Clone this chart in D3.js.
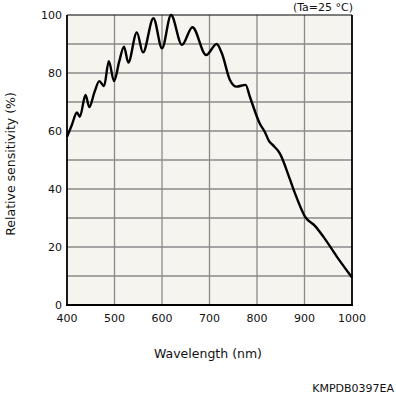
<!DOCTYPE html>
<html><head><meta charset="utf-8">
<script src="https://cdn.jsdelivr.net/npm/d3@7"></script>
<style>body{margin:0;background:#fff}svg{display:block}</style>
</head><body>
<script>
const wavelength = [400,410,421,427,439,447,458,468,478,488,499,510,520,529,547,560,582,600,619,642,664,693,715,726,743,757,776,785,806,817,825,833,848,869,880,901,922,940,968,1000];
const sensitivity = [58.0,62.0,66.4,64.9,72.4,68.2,73.5,77.2,75.5,84.1,77.2,84.0,89.1,83.6,94.0,87.1,98.9,88.5,100,89.7,95.8,86.2,90.0,86.8,77.6,75.3,75.9,71.8,62.5,59.5,56.6,55.2,52.3,43.5,38.5,30.5,27.3,23.5,16.7,9.5];
const xTicks = [400,500,600,700,800,900,1000];
const yTicks = [0,20,40,60,80,100];
const yGrid = [10,20,30,40,50,60,70,80,90];

const W=396,H=396;
const m={l:67,r:44,t:15,b:91};
const svg=d3.select("body").append("svg").attr("width",W).attr("height",H);
const x=d3.scaleLinear().domain([400,1000]).range([m.l,W-m.r]);
const y=d3.scaleLinear().domain([0,100]).range([H-m.b,m.t]);
const font="'DejaVu Sans', Verdana, sans-serif";

svg.append("rect").attr("x",x(400)).attr("y",y(100)).attr("width",x(1000)-x(400)).attr("height",y(0)-y(100)).attr("fill","#f5f4ee");

const g=svg.append("g");
g.selectAll(".vg").data(xTicks.slice(1,-1)).join("line")
 .attr("x1",d=>x(d)).attr("x2",d=>x(d)).attr("y1",y(0)).attr("y2",y(100))
 .attr("stroke","#8a8a8a").attr("stroke-width",1.3);
g.selectAll(".hg").data(yGrid).join("line")
 .attr("y1",d=>y(d)).attr("y2",d=>y(d)).attr("x1",x(400)).attr("x2",x(1000))
 .attr("stroke","#8a8a8a").attr("stroke-width",1.3);

// frame
svg.append("line").attr("x1",x(400)).attr("x2",x(1000)).attr("y1",y(100)).attr("y2",y(100)).attr("stroke","#000").attr("stroke-width",1.2);
svg.append("line").attr("x1",x(1000)).attr("x2",x(1000)).attr("y1",y(100)).attr("y2",y(0)).attr("stroke","#000").attr("stroke-width",1.8);
svg.append("line").attr("x1",x(400)).attr("x2",x(400)).attr("y1",y(100)).attr("y2",y(0)+1).attr("stroke","#000").attr("stroke-width",1.8);
svg.append("line").attr("x1",x(400)-1).attr("x2",x(1000)+1).attr("y1",y(0)).attr("y2",y(0)).attr("stroke","#000").attr("stroke-width",1.8);

const data=wavelength.map((w,i)=>[w,sensitivity[i]]);
const line=d3.line().x(d=>x(d[0])).y(d=>y(d[1])).curve(d3.curveMonotoneX);
svg.append("path").datum(data).attr("d",line).attr("fill","none").attr("stroke","#000").attr("stroke-width",2.4).attr("stroke-linejoin","round");

// tick labels
svg.selectAll(".xl").data(xTicks).join("text")
 .attr("x",d=>x(d)).attr("y",y(0)+17).attr("text-anchor","middle")
 .attr("font-family",font).attr("font-size",11).attr("fill","#111").text(d=>d);
svg.selectAll(".yl").data(yTicks).join("text")
 .attr("x",x(400)-5).attr("y",d=>y(d)+4).attr("text-anchor","end")
 .attr("font-family",font).attr("font-size",11).attr("fill","#111").text(d=>d);

svg.append("text").attr("x",208).attr("y",358).attr("text-anchor","middle")
 .attr("font-family",font).attr("font-size",12.5).attr("fill","#111").text("Wavelength (nm)");
svg.append("text").attr("transform",`translate(15,164) rotate(-90)`).attr("text-anchor","middle")
 .attr("font-family",font).attr("font-size",12.5).attr("fill","#111").text("Relative sensitivity (%)");
svg.append("text").attr("x",x(1000)+1).attr("y",11).attr("text-anchor","end")
 .attr("font-family",font).attr("font-size",11).attr("fill","#111").text("(Ta=25 °C)");
svg.append("text").attr("x",394).attr("y",392).attr("text-anchor","end")
 .attr("font-family",font).attr("font-size",11).attr("fill","#111").text("KMPDB0397EA");
</script>
</body></html>
